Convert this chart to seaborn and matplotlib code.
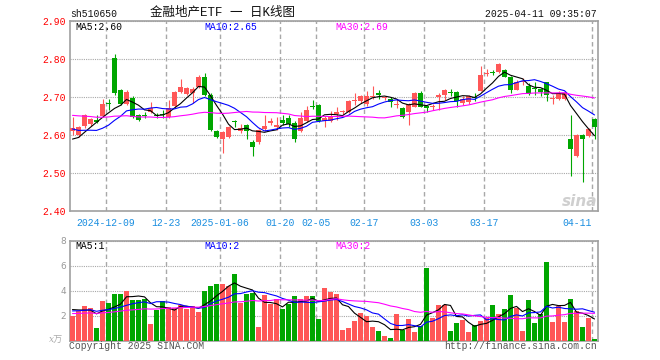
import numpy as np
import pandas as pd
import matplotlib
matplotlib.use('Agg')
import matplotlib.pyplot as plt
import seaborn as sns

# daily K data for sh510650, 2024-11-29 .. 2025-04-11 (88 sessions)
opens = [2.612, 2.601, 2.623, 2.628, 2.640, 2.651, 2.683, 2.803, 2.718, 2.682,
         2.699, 2.654, 2.653, 2.662, 2.652, 2.655, 2.647, 2.678, 2.713, 2.709,
         2.711, 2.726, 2.754, 2.706, 2.612, 2.590, 2.595, 2.637, 2.612, 2.627,
         2.583, 2.581, 2.617, 2.632, 2.621, 2.640, 2.645, 2.632, 2.612, 2.636,
         2.677, 2.680, 2.636, 2.636, 2.656, 2.661, 2.660, 2.689, 2.690, 2.682,
         2.701, 2.711, 2.697, 2.696, 2.679, 2.671, 2.662, 2.675, 2.712, 2.677,
         2.675, 2.700, 2.706, 2.714, 2.713, 2.684, 2.686, 2.700, 2.717, 2.762,
         2.767, 2.766, 2.772, 2.754, 2.719, 2.740, 2.730, 2.723, 2.722, 2.739,
         2.695, 2.695, 2.695, 2.590, 2.544, 2.601, 2.597, 2.643]
highs = [2.648, 2.625, 2.656, 2.645, 2.653, 2.695, 2.695, 2.814, 2.721, 2.719,
         2.702, 2.656, 2.660, 2.686, 2.659, 2.667, 2.693, 2.715, 2.747, 2.728,
         2.728, 2.759, 2.763, 2.710, 2.614, 2.610, 2.623, 2.641, 2.630, 2.630,
         2.587, 2.616, 2.653, 2.645, 2.647, 2.653, 2.653, 2.636, 2.662, 2.676,
         2.693, 2.681, 2.651, 2.664, 2.675, 2.666, 2.693, 2.711, 2.706, 2.717,
         2.730, 2.718, 2.702, 2.700, 2.695, 2.675, 2.684, 2.713, 2.715, 2.680,
         2.682, 2.711, 2.721, 2.721, 2.715, 2.702, 2.706, 2.711, 2.781, 2.774,
         2.772, 2.789, 2.774, 2.756, 2.744, 2.750, 2.737, 2.739, 2.724, 2.741,
         2.706, 2.716, 2.716, 2.653, 2.602, 2.602, 2.619, 2.645]
lows = [2.600, 2.595, 2.620, 2.625, 2.632, 2.649, 2.667, 2.706, 2.680, 2.680,
        2.645, 2.636, 2.645, 2.659, 2.645, 2.645, 2.645, 2.675, 2.710, 2.706,
        2.684, 2.724, 2.702, 2.612, 2.592, 2.553, 2.593, 2.621, 2.605, 2.589,
        2.546, 2.577, 2.612, 2.627, 2.614, 2.627, 2.621, 2.583, 2.609, 2.634,
        2.669, 2.634, 2.621, 2.634, 2.640, 2.655, 2.658, 2.680, 2.684, 2.677,
        2.694, 2.694, 2.692, 2.675, 2.672, 2.645, 2.627, 2.673, 2.673, 2.662,
        2.667, 2.667, 2.693, 2.704, 2.675, 2.680, 2.683, 2.689, 2.715, 2.755,
        2.759, 2.763, 2.753, 2.711, 2.718, 2.733, 2.706, 2.707, 2.704, 2.691,
        2.683, 2.693, 2.693, 2.493, 2.542, 2.477, 2.595, 2.589]
closes = [2.618, 2.621, 2.653, 2.642, 2.635, 2.682, 2.681, 2.712, 2.682, 2.713,
          2.647, 2.640, 2.651, 2.671, 2.650, 2.653, 2.671, 2.713, 2.728, 2.724,
          2.722, 2.754, 2.706, 2.614, 2.596, 2.607, 2.621, 2.635, 2.618, 2.612,
          2.570, 2.614, 2.623, 2.637, 2.626, 2.632, 2.630, 2.589, 2.645, 2.667,
          2.675, 2.636, 2.645, 2.651, 2.662, 2.663, 2.690, 2.691, 2.704, 2.704,
          2.703, 2.705, 2.699, 2.688, 2.681, 2.649, 2.682, 2.712, 2.675, 2.671,
          2.676, 2.706, 2.718, 2.712, 2.689, 2.695, 2.702, 2.698, 2.759, 2.764,
          2.765, 2.788, 2.754, 2.718, 2.741, 2.742, 2.709, 2.721, 2.713, 2.706,
          2.697, 2.712, 2.712, 2.563, 2.601, 2.590, 2.617, 2.621]
volumes = [1.97, 2.35, 2.75, 2.60, 1.00, 3.15, 3.00, 3.70, 3.70, 3.97,
           3.23, 3.23, 3.36, 1.30, 2.43, 3.15, 2.70, 2.60, 2.83, 2.50,
           2.75, 2.27, 3.97, 4.37, 4.53, 4.53, 4.35, 5.30, 3.04, 3.76,
           3.80, 1.07, 3.63, 2.96, 3.30, 2.50, 2.96, 3.55, 3.30, 3.55,
           3.55, 1.70, 4.19, 3.87, 3.73, 0.83, 0.99, 1.55, 2.19, 1.97,
           1.07, 0.75, 0.35, 0.24, 2.10, 0.83, 1.70, 0.67, 1.17, 5.81,
           1.81, 2.83, 2.83, 0.77, 1.39, 1.63, 0.67, 1.23, 1.55, 1.79,
           2.83, 2.10, 2.50, 3.63, 2.61, 0.75, 3.23, 1.39, 2.10, 6.27,
           1.47, 2.75, 1.47, 3.30, 2.35, 1.07, 1.81, 0.10]

# the 29 sessions before the window, only there to seed the moving averages
prev_closes = [2.66, 2.68, 2.67, 2.69, 2.68, 2.66, 2.65, 2.67, 2.69, 2.70,
               2.68, 2.66, 2.67, 2.68, 2.66, 2.65, 2.67, 2.66, 2.67, 2.65,
               2.66, 2.65, 2.64, 2.64, 2.625, 2.60, 2.585, 2.575, 2.57]
prev_volumes = [2.1, 1.9, 2.3, 2.0, 1.8, 2.2, 2.1, 1.9, 2.0, 2.3,
                2.1, 1.9, 2.0, 2.2, 2.1, 1.9, 2.0, 2.2, 2.0, 2.1,
                2.2, 2.4, 2.1, 2.3, 2.3, 2.5, 2.8, 2.6, 2.53]

tick_idx = [6, 16, 25, 35, 41, 49, 59, 69, 87]
tick_labels = ['2024-12-09', '12-23', '2025-01-06', '01-20', '02-05',
               '02-17', '03-03', '03-17', '04-11']

price_ma_text = ['MA5:2.60', 'MA10:2.65', 'MA30:2.69']
vol_ma_text = ['MA5:1', 'MA10:2', 'MA30:2']

RED = '#ff5757'
GREEN = '#00a600'
MA_COLORS = ['black', '#0000ff', '#ff00ff']
GRID = '#a8a8a8'
MONO = 'Liberation Mono'


def moving_avgs(hist, vals, windows=(5, 10, 30)):
    s = pd.Series(list(hist) + list(vals))
    n = len(hist)
    return [s.rolling(w).mean().iloc[n:].to_numpy() for w in windows]


sns.set_theme(style='white')
plt.rcParams['font.family'] = [MONO, 'Noto Sans CJK SC', 'DejaVu Sans']
plt.rcParams['lines.scale_dashes'] = False

W, H = 660, 360
fig = plt.figure(figsize=(W / 100, H / 100), dpi=100)
fig.patch.set_facecolor('white')


def ftext(x, y, s, **kw):
    fig.text(x / W, 1 - y / H, s, **kw)


ax = fig.add_axes([70 / W, 1 - 211 / H, 528 / W, 189.7 / H])
axv = fig.add_axes([70 / W, 1 - 340.5 / H, 528 / W, 99.8 / H])

idx = np.arange(len(closes))
o = np.array(opens)
c = np.array(closes)
up = c >= o
cols = np.where(up, RED, GREEN)
xmin = -2.5 / 6
xmax = xmin + len(closes)
grid_x = [i - 0.41 for i in tick_idx]

# candles
ax.vlines(idx, lows, highs, colors=cols, lw=0.8, zorder=2)
body_lo = np.minimum(o, c)
body_h = np.maximum(np.abs(c - o), 0.0026)
ax.bar(idx, body_h, bottom=body_lo, width=0.78, color=cols, lw=0, zorder=3)

for ma, col in zip(moving_avgs(prev_closes, closes), MA_COLORS):
    sns.lineplot(x=idx, y=ma, color=col, lw=0.8, ax=ax, zorder=4,
                 estimator=None, sort=False)

# volume
vdf = pd.DataFrame({'idx': idx, 'vol': volumes,
                    'dir': np.where(up, 'up', 'down')})
sns.barplot(data=vdf, x='idx', y='vol', hue='dir',
            palette={'up': RED, 'down': GREEN}, dodge=False, width=0.78,
            saturation=1, errorbar=None, legend=False, ax=axv, zorder=3)
for p in axv.patches:
    p.set_linewidth(0)
for ma, col in zip(moving_avgs(prev_volumes, volumes), MA_COLORS):
    sns.lineplot(x=idx, y=ma, color=col, lw=0.8, ax=axv, zorder=4,
                 estimator=None, sort=False)

for a in (ax, axv):
    a.set_xlim(xmin, xmax)
    a.set_xlabel('')
    a.set_ylabel('')
    a.set_xticks(grid_x)
    a.set_axisbelow(True)
    a.grid(True, axis='x', color=GRID, lw=1.0, linestyle=(0, (3.2, 2.2)))
    a.grid(True, axis='y', color=GRID, lw=0.8, linestyle=(0, (0.8, 0.8)))
    a.tick_params(length=0, pad=3)
    for sp in a.spines.values():
        sp.set_color('#a0a0a0')
        sp.set_linewidth(1.2)

ax.set_ylim(2.40, 2.90)
ax.set_yticks(np.arange(2.40, 2.901, 0.10))
ax.set_yticklabels(['%.2f' % v for v in np.arange(2.40, 2.901, 0.10)],
                   color='red', fontsize=7, family=MONO)
ax.set_xticklabels(tick_labels, color='#1a8ee0', fontsize=7, family=MONO)
ax.get_xticklabels()[-1].set_ha('right')
ax.tick_params(axis='x', pad=5)

axv.set_ylim(0, 8)
axv.set_yticks([0, 2, 4, 6, 8])
axv.set_yticklabels(['', '2', '4', '6', '8'], color='#999999', fontsize=6.5,
                    family='DejaVu Sans')
axv.set_xticklabels([])

# header and texts
ftext(70, 17, 'sh510650', fontsize=7, family=MONO, va='baseline', color='#111111')
ftext(223, 13, '金融地产ETF 一 日K线图', fontsize=9, ha='center', va='center',
      family=[MONO, 'Noto Sans CJK SC'], color='#111111')
ftext(597, 17, '2025-04-11 09:35:07', fontsize=7, family=MONO, ha='right',
      va='baseline', color='#111111')

for x, s, col in zip([75, 204, 335], price_ma_text, MA_COLORS):
    ftext(x, 26.5, s, fontsize=7, family=MONO, va='center', color=col)
for x, s, col in zip([75, 204, 335], vol_ma_text, MA_COLORS):
    ftext(x, 246, s, fontsize=7, family=MONO, va='center', color=col)

ftext(56, 340, 'x万', fontsize=6.5, ha='center', va='center', color='#aaaaaa',
      style='italic', family=['DejaVu Serif', 'Noto Sans CJK SC'])
ftext(69, 346, 'Copyright 2025 SINA.COM', fontsize=7, family=MONO,
      va='center', color='#555555')
ftext(597, 346, 'http://finance.sina.com.cn', fontsize=7, family=MONO,
      ha='right', va='center', color='#555555')
ftext(580, 201, 'sina', fontsize=11, fontweight='bold', style='italic',
      ha='center', va='center', color='#cfcfcf', family='DejaVu Sans')

fig.savefig('out.png', dpi=100, facecolor='white')
